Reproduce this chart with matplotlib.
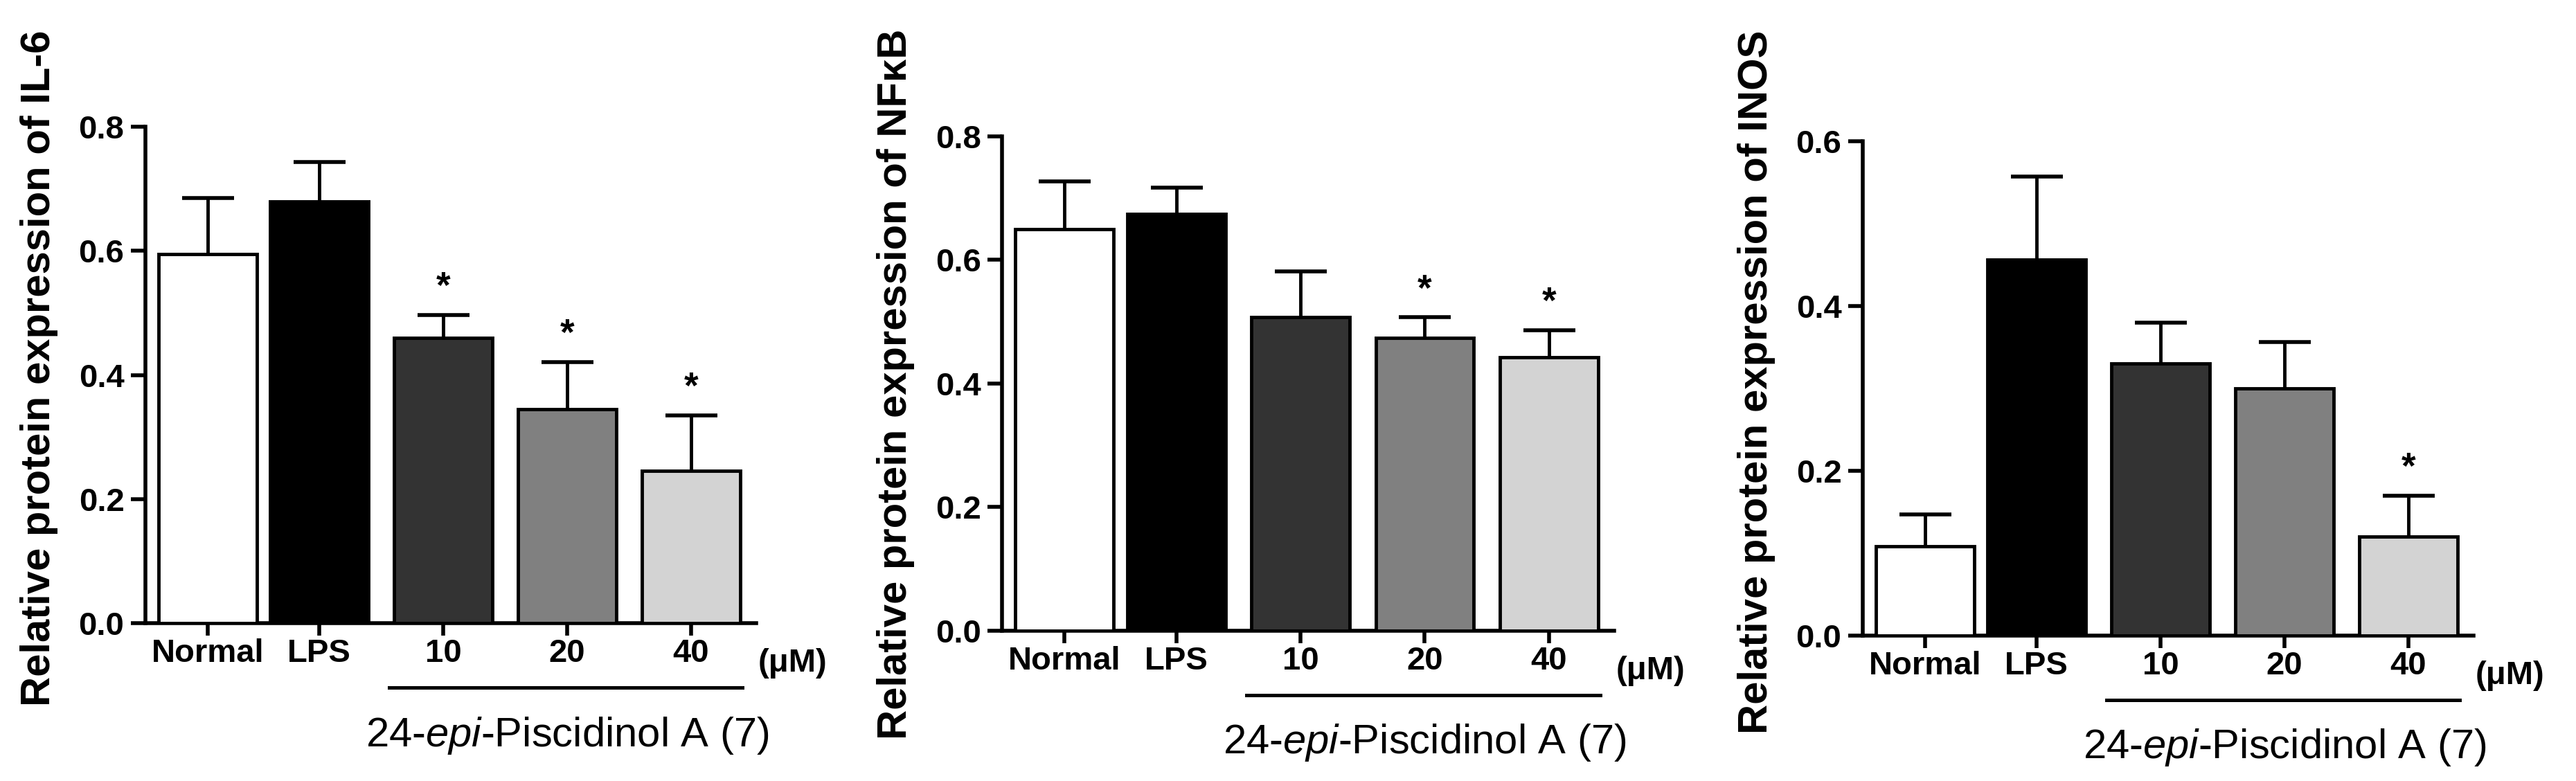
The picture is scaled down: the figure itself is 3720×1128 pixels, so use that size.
import numpy as np
import matplotlib
matplotlib.use('Agg')
import matplotlib.pyplot as plt
import matplotlib.transforms as mtransforms

plt.rcParams['font.family'] = ['Liberation Sans', 'DejaVu Sans']
plt.rcParams['font.weight'] = 'bold'
plt.rcParams['mathtext.fontset'] = 'custom'
plt.rcParams['mathtext.rm'] = 'Liberation Sans:weight=normal'
plt.rcParams['mathtext.it'] = 'Liberation Sans:style=italic:weight=normal'

# --- Data ---
groups = ['Normal', 'LPS', '10', '20', '40']
bar_colors = ['#ffffff', '#000000', '#333333', '#808080', '#d3d3d3']

il6_mean = [0.595, 0.680, 0.460, 0.345, 0.245]
il6_sem = [0.090, 0.063, 0.037, 0.076, 0.090]
il6_star = [False, False, True, True, True]

nfkb_mean = [0.650, 0.674, 0.508, 0.474, 0.443]
nfkb_sem = [0.077, 0.043, 0.074, 0.033, 0.043]
nfkb_star = [False, False, False, True, True]

inos_mean = [0.108, 0.456, 0.330, 0.300, 0.120]
inos_sem = [0.039, 0.101, 0.050, 0.056, 0.050]
inos_star = [False, False, False, False, True]

ylabels = ['Relative protein expression of IL-6',
           'Relative protein expression of NF\u03baB',
           'Relative protein expression of INOS']
ytops = [0.8, 0.8, 0.6]
compound_label = '24-$\\mathit{epi}$-Piscidinol A (7)'

# bar positions (gap between controls is a bit tighter)
x = np.array([0, 0.9, 1.9, 2.9, 3.9])
width = 0.79

# --- Plotting ---
fig = plt.figure(figsize=(37.2, 11.28), dpi=100)
axes_rects = [[0.05645, 0.2021, 0.2371, 0.6356],
              [0.3890, 0.1924, 0.2376, 0.6330],
              [0.7231, 0.1862, 0.2371, 0.6330]]
label_y = [0.514, 0.499, 0.513]

panels = [(il6_mean, il6_sem, il6_star),
          (nfkb_mean, nfkb_sem, nfkb_star),
          (inos_mean, inos_sem, inos_star)]

for i, (mean, sem, star) in enumerate(panels):
    ax = fig.add_axes(axes_rects[i])
    ax.bar(x, mean, width=width, color=bar_colors, edgecolor='black',
           linewidth=3.5, zorder=3)
    eb = ax.errorbar(x, mean, yerr=[np.zeros(len(mean)), sem], fmt='none',
                     ecolor='black', elinewidth=3.5, capsize=27, capthick=4,
                     zorder=2)
    eb[1][0].set_visible(False)  # hide lower caps

    tops = np.array(mean) + np.array(sem)
    for xi, top, s in zip(x, tops, star):
        if s:
            ax.annotate('*', (xi, top), xytext=(0, 28), textcoords='offset points',
                        ha='center', va='center', fontsize=38, fontweight='bold')

    ax.set_xlim(-0.503, 4.425)
    ax.set_ylim(0, ytops[i])
    ax.set_yticks(np.arange(0, ytops[i] + 0.01, 0.2))
    ax.yaxis.set_major_formatter(plt.FormatStrFormatter('%.1f'))
    ax.set_xticks(x)
    ax.set_xticklabels(groups)

    for side in ['top', 'right']:
        ax.spines[side].set_visible(False)
    for side in ['left', 'bottom']:
        ax.spines[side].set_linewidth(4)
    ax.tick_params(axis='y', length=15, width=4, pad=7, labelsize=34)
    ax.tick_params(axis='x', length=13, width=4, pad=3, labelsize=34)

    ax.set_ylabel(ylabels[i], fontsize=43, fontweight='bold', va='center')
    ax.yaxis.set_label_coords(-0.174, label_y[i])

    ax.text(1.003, -0.081, '(\u03bcM)', transform=ax.transAxes, ha='left',
            va='center', fontsize=34, fontweight='bold')

    # line under the compound doses
    trans = mtransforms.blended_transform_factory(ax.transData, ax.transAxes)
    ax.plot([x[2] - width / 2 - 0.04, x[4] + width / 2 + 0.02], [-0.13, -0.13],
            color='black', linewidth=3.6, transform=trans, clip_on=False)
    ax.text(x[3], -0.248, compound_label, transform=trans, ha='center',
            va='baseline', fontsize=43, fontweight='normal')

fig.savefig('out.png', dpi=100)
